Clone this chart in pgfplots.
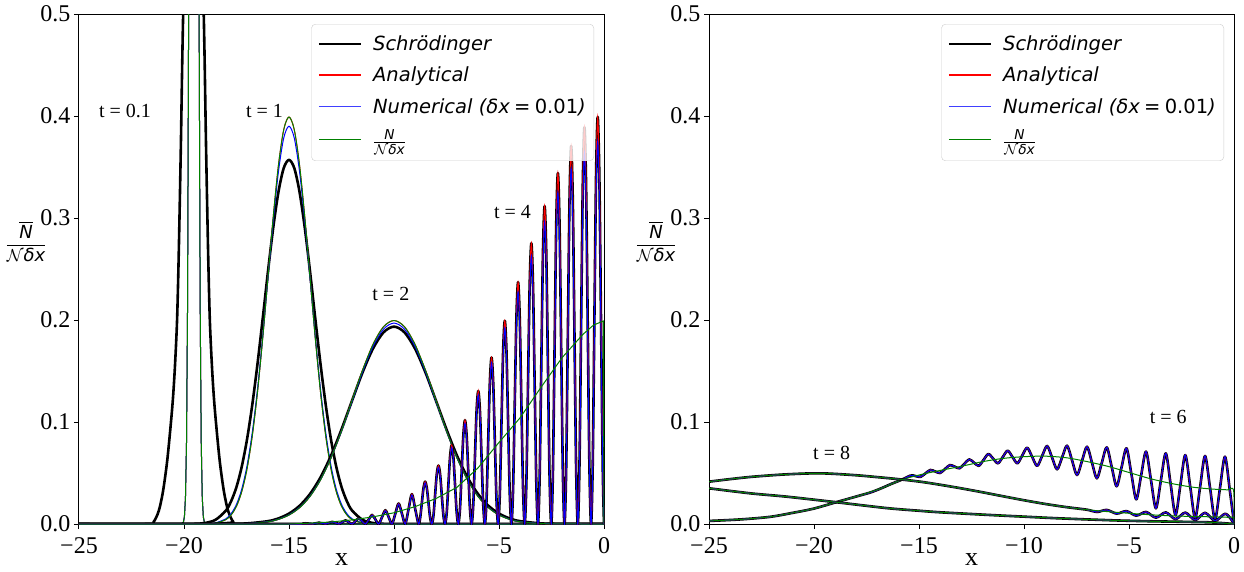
\documentclass[border=0pt]{standalone}
\usepackage{amsmath}
\usepackage{fontspec}
\setmainfont{Liberation Serif}
\newfontfamily\dejavu{DejaVu Sans}
\usepackage{pgfplots}
\usepackage{pgfplotstable}
\pgfplotsset{compat=1.18}

\definecolor{mred}{rgb}{1,0,0}
\definecolor{mblue}{rgb}{0,0,1}
\definecolor{mgreen}{rgb}{0,0.5,0}
\definecolor{lgd}{rgb}{0.8,0.8,0.8}

% ---------- left panel data ----------
\pgfplotstableread{
x y
-25.00 0
-21.75 0
-21.45 0.002
-21.20 0.013
-21.00 0.032
-20.80 0.062
-20.62 0.100
-20.52 0.125
-20.43 0.155
-20.33 0.200
-20.25 0.265
-20.15 0.370
-20.04 0.500
-19.80 0.700
-19.55 0.800
-19.30 0.700
-19.06 0.500
-18.95 0.370
-18.85 0.265
-18.77 0.200
-18.67 0.155
-18.58 0.125
-18.48 0.100
-18.30 0.062
-18.10 0.032
-17.90 0.013
-17.65 0.002
-17.35 0
0.00 0
}\tzk
\pgfplotstableread{
x y
-25.00 0
-20.13 0
-20.03 0.0017
-19.98 0.0071
-19.93 0.0259
-19.88 0.0806
-19.83 0.216
-19.78 0.497
-19.73 0.982
-19.68 1.67
-19.63 2.44
-19.58 3.06
-19.53 3.30
-19.48 3.06
-19.43 2.44
-19.38 1.67
-19.33 0.982
-19.28 0.497
-19.23 0.216
-19.18 0.0806
-19.13 0.0259
-19.08 0.0071
-19.03 0.0017
-18.93 0
0.00 0
}\tzt
\pgfplotstableread{
x k r b
-25.00 0 0 0
-20.50 0 0 0
-19.50 0.0002 0 0
-19.00 0.0010 0.0001 0.0002
-18.50 0.0041 0.0009 0.0011
-18.00 0.0133 0.0044 0.0052
-17.75 0.0226 0.0091 0.0103
-17.50 0.0364 0.0175 0.0193
-17.25 0.0562 0.0318 0.0342
-17.00 0.0828 0.0540 0.0570
-16.75 0.1167 0.0863 0.0895
-16.50 0.1570 0.1295 0.1322
-16.25 0.2017 0.1827 0.1840
-16.00 0.2478 0.2420 0.2411
-15.75 0.2907 0.3012 0.2976
-15.50 0.3258 0.3521 0.3458
-15.25 0.3490 0.3867 0.3785
-15.00 0.3570 0.3990 0.3900
-14.75 0.3490 0.3867 0.3785
-14.50 0.3258 0.3521 0.3458
-14.25 0.2907 0.3012 0.2976
-14.00 0.2478 0.2420 0.2411
-13.75 0.2017 0.1827 0.1840
-13.50 0.1570 0.1295 0.1322
-13.25 0.1167 0.0863 0.0895
-13.00 0.0828 0.0540 0.0570
-12.75 0.0562 0.0318 0.0342
-12.50 0.0364 0.0175 0.0193
-12.25 0.0226 0.0091 0.0103
-12.00 0.0133 0.0044 0.0052
-11.50 0.0041 0.0009 0.0011
-11.00 0.0010 0.0001 0.0002
-10.50 0.0002 0 0
-9.50 0 0 0
0.00 0 0 0
}\tone
\pgfplotstableread{
x k r b
-25.0 0 0 0
-19.0 0 0 0
-18.0 0.0001 0.0001 0.0001
-17.0 0.0006 0.0004 0.0005
-16.0 0.0028 0.0022 0.0023
-15.5 0.0055 0.0046 0.0047
-15.0 0.0102 0.0088 0.0090
-14.5 0.0178 0.0159 0.0162
-14.0 0.0294 0.0270 0.0273
-13.5 0.0457 0.0432 0.0434
-13.0 0.0670 0.0648 0.0649
-12.5 0.0927 0.0913 0.0911
-12.0 0.1208 0.1210 0.1202
-11.5 0.1485 0.1506 0.1492
-11.0 0.1720 0.1761 0.1741
-10.5 0.1879 0.1934 0.1910
-10.0 0.1935 0.1995 0.1970
-9.5 0.1879 0.1934 0.1910
-9.0 0.1720 0.1761 0.1741
-8.5 0.1485 0.1506 0.1492
-8.0 0.1208 0.1210 0.1202
-7.5 0.0927 0.0913 0.0911
-7.0 0.0670 0.0648 0.0649
-6.5 0.0457 0.0432 0.0434
-6.0 0.0294 0.0270 0.0273
-5.5 0.0178 0.0159 0.0162
-5.0 0.0102 0.0088 0.0090
-4.5 0.0055 0.0046 0.0047
-4.0 0.0028 0.0022 0.0023
-3.0 0.0006 0.0004 0.0005
-2.0 0.0001 0.0001 0.0001
-1.0 0 0 0
0.0 0 0 0
}\ttwo
\pgfplotstableread{
x k b
-25.000 0 0
-14.520 0 0
-14.362 0.0004 0.0003
-14.204 0.0007 0.0007
-14.046 0.0004 0.0003
-13.888 0 0
-13.730 0.0007 0.0006
-13.572 0.0013 0.0013
-13.414 0.0007 0.0006
-13.256 0 0
-13.098 0.0011 0.0010
-12.940 0.0021 0.0020
-12.782 0.0011 0.0010
-12.624 0 0
-12.466 0.0018 0.0017
-12.308 0.0035 0.0034
-12.150 0.0018 0.0017
-11.992 0 0
-11.834 0.0028 0.0027
-11.676 0.0056 0.0054
-11.518 0.0028 0.0027
-11.360 0 0
-11.202 0.0045 0.0043
-11.044 0.0089 0.0086
-10.886 0.0045 0.0043
-10.728 0 0
-10.570 0.0068 0.0065
-10.412 0.0135 0.0131
-10.254 0.0068 0.0065
-10.096 0 0
-9.938 0.0101 0.0097
-9.780 0.0201 0.0195
-9.622 0.0101 0.0097
-9.464 0 0
-9.306 0.0147 0.0142
-9.148 0.0293 0.0284
-8.990 0.0147 0.0142
-8.832 0 0
-8.753 0.0061 0.0059
-8.674 0.0208 0.0201
-8.595 0.0354 0.0344
-8.516 0.0415 0.0403
-8.437 0.0354 0.0344
-8.358 0.0208 0.0201
-8.279 0.0061 0.0059
-8.200 0 0
-8.121 0.0084 0.0081
-8.042 0.0287 0.0278
-7.963 0.0489 0.0475
-7.884 0.0573 0.0556
-7.805 0.0489 0.0475
-7.726 0.0287 0.0278
-7.647 0.0084 0.0081
-7.568 0 0
-7.489 0.0113 0.0110
-7.410 0.0387 0.0375
-7.331 0.0660 0.0640
-7.252 0.0773 0.0750
-7.173 0.0660 0.0640
-7.094 0.0387 0.0375
-7.015 0.0113 0.0110
-6.936 0 0
-6.857 0.0149 0.0144
-6.778 0.0509 0.0493
-6.699 0.0869 0.0842
-6.620 0.1017 0.0986
-6.541 0.0869 0.0842
-6.462 0.0509 0.0493
-6.383 0.0149 0.0144
-6.304 0 0
-6.225 0.0190 0.0185
-6.146 0.0652 0.0633
-6.067 0.1114 0.1080
-5.988 0.1304 0.1265
-5.909 0.1114 0.1080
-5.830 0.0652 0.0633
-5.751 0.0190 0.0185
-5.672 0 0
-5.593 0.0238 0.0231
-5.514 0.0816 0.0792
-5.435 0.1394 0.1352
-5.356 0.1632 0.1583
-5.277 0.1394 0.1352
-5.198 0.0816 0.0792
-5.119 0.0238 0.0231
-5.040 0 0
-4.961 0.0291 0.0281
-4.882 0.0996 0.0961
-4.803 0.1701 0.1641
-4.724 0.1992 0.1922
-4.645 0.1701 0.1641
-4.566 0.0996 0.0961
-4.487 0.0291 0.0281
-4.408 0 0
-4.329 0.0346 0.0332
-4.250 0.1185 0.1138
-4.171 0.2024 0.1943
-4.092 0.2370 0.2275
-4.013 0.2024 0.1943
-3.934 0.1185 0.1138
-3.855 0.0346 0.0332
-3.776 0 0
-3.697 0.0402 0.0384
-3.618 0.1376 0.1314
-3.539 0.2350 0.2244
-3.460 0.2752 0.2628
-3.381 0.2350 0.2244
-3.302 0.1376 0.1314
-3.223 0.0402 0.0384
-3.144 0 0
-3.065 0.0455 0.0432
-2.986 0.1558 0.1480
-2.907 0.2661 0.2528
-2.828 0.3116 0.2960
-2.749 0.2661 0.2528
-2.670 0.1558 0.1480
-2.591 0.0455 0.0432
-2.512 0 0
-2.433 0.0502 0.0475
-2.354 0.1720 0.1625
-2.275 0.2938 0.2776
-2.196 0.3440 0.3251
-2.117 0.2938 0.2776
-2.038 0.1720 0.1625
-1.959 0.0502 0.0475
-1.880 0 0
-1.801 0.0541 0.0509
-1.722 0.1853 0.1742
-1.643 0.3165 0.2975
-1.564 0.3706 0.3484
-1.485 0.3165 0.2975
-1.406 0.1853 0.1742
-1.327 0.0541 0.0509
-1.248 0 0
-1.169 0.0568 0.0531
-1.090 0.1945 0.1819
-1.011 0.3322 0.3106
-0.932 0.3890 0.3637
-0.853 0.3322 0.3106
-0.774 0.1945 0.1819
-0.695 0.0568 0.0531
-0.616 0 0
-0.537 0.0583 0.0548
-0.458 0.1995 0.1875
-0.379 0.3407 0.3203
-0.300 0.3990 0.3751
-0.221 0.3407 0.3203
-0.142 0.1995 0.1875
-0.063 0.0583 0.0548
0.000 0 0
}\tfour
\pgfplotstableread{
x y
-25.00 0
-15.00 0
-14.00 0.0008
-13.00 0.0020
-12.00 0.0040
-11.00 0.0070
-10.00 0.0110
-9.00 0.0170
-8.00 0.0250
-7.00 0.0360
-6.00 0.0550
-5.00 0.0800
-4.00 0.1040
-3.00 0.1340
-2.00 0.1630
-1.00 0.1860
-0.50 0.1950
-0.03 0.1990
0.00 0
}\tfourg
% ---------- right panel data ----------
\pgfplotstableread{
x y
-25.000 0.0030
-23.500 0.0045
-22.100 0.0070
-21.000 0.0110
-20.030 0.0150
-18.920 0.0215
-17.810 0.0280
-17.300 0.0310
-16.800 0.0350
-16.300 0.0395
-15.870 0.0430
-15.400 0.0475
-15.165 0.0470
-14.930 0.0462
-14.695 0.0496
-14.460 0.0530
-14.228 0.0515
-13.995 0.0500
-13.763 0.0539
-13.530 0.0578
-13.300 0.0562
-13.070 0.0546
-12.840 0.0590
-12.610 0.0634
-12.383 0.0602
-12.155 0.0570
-11.928 0.0628
-11.700 0.0686
-11.470 0.0641
-11.240 0.0595
-11.010 0.0657
-10.780 0.0719
-10.548 0.0657
-10.315 0.0595
-10.083 0.0672
-9.850 0.0748
-9.613 0.0659
-9.375 0.0569
-9.138 0.0667
-8.900 0.0765
-8.663 0.0651
-8.425 0.0536
-8.188 0.0652
-7.950 0.0768
-7.713 0.0624
-7.475 0.0480
-7.238 0.0619
-7.000 0.0758
-6.765 0.0603
-6.530 0.0448
-6.295 0.0600
-6.060 0.0752
-5.825 0.0561
-5.590 0.0370
-5.355 0.0556
-5.120 0.0742
-4.888 0.0492
-4.655 0.0242
-4.423 0.0476
-4.190 0.0710
-3.955 0.0432
-3.720 0.0154
-3.485 0.0424
-3.250 0.0693
-3.018 0.0391
-2.785 0.0088
-2.553 0.0382
-2.320 0.0676
-2.085 0.0366
-1.850 0.0056
-1.615 0.0362
-1.380 0.0667
-1.143 0.0357
-0.905 0.0046
-0.668 0.0353
-0.430 0.0660
-0.200 0.0330
0.000 0.0010
}\tsix
\pgfplotstableread{
x y
-25.00 0.0030
-23.50 0.0045
-22.10 0.0070
-21.00 0.0110
-20.03 0.0150
-18.92 0.0215
-17.81 0.0280
-16.80 0.0350
-15.87 0.0430
-15.00 0.0480
-14.00 0.0525
-13.00 0.0565
-12.00 0.0610
-11.00 0.0643
-10.00 0.0660
-9.00 0.0665
-8.00 0.0650
-7.00 0.0612
-6.00 0.0565
-5.00 0.0505
-4.00 0.0445
-3.00 0.0398
-2.00 0.0362
-1.00 0.0342
-0.30 0.0335
-0.02 0.0330
0.00 0
}\tsixg
\pgfplotstableread{
x y
-25.00 0.0415
-24.00 0.0440
-22.89 0.0464
-21.30 0.0487
-19.71 0.0497
-18.13 0.0480
-17.00 0.0460
-16.00 0.0440
-14.95 0.0415
-14.00 0.0385
-13.00 0.0350
-12.00 0.0312
-11.00 0.0272
-10.00 0.0233
-9.00 0.0197
-8.00 0.0166
-7.00 0.0140
-6.53 0.0118
-6.06 0.0138
-5.59 0.0102
-5.12 0.0126
-4.655 0.0082
-4.19 0.0118
-3.72 0.0062
-3.25 0.0114
-2.785 0.0048
-2.32 0.0112
-1.85 0.0038
-1.38 0.0110
-0.905 0.0032
-0.43 0.0100
-0.15 0.0050
0.00 0.0000
}\teight
\pgfplotstableread{
x y
-25.00 0.0415
-24.00 0.0440
-22.89 0.0464
-21.30 0.0487
-19.71 0.0497
-18.13 0.0480
-17.00 0.0460
-16.00 0.0440
-14.95 0.0415
-14.00 0.0385
-13.00 0.0350
-12.00 0.0312
-11.00 0.0272
-10.00 0.0233
-9.00 0.0197
-8.00 0.0166
-7.00 0.0140
-6.00 0.0121
-5.00 0.0105
-4.00 0.0091
-3.00 0.0080
-2.00 0.0074
-1.00 0.0070
-0.30 0.0066
-0.02 0.0065
0.00 0
}\teightg
\pgfplotstableread{
x y
-25.00 0.0350
-23.00 0.0300
-21.30 0.0268
-18.92 0.0213
-16.54 0.0156
-15.00 0.0130
-14.00 0.0115
-11.78 0.0090
-10.00 0.0072
-8.60 0.0058
-7.00 0.0045
-5.43 0.0034
-4.00 0.0027
-2.00 0.0020
-1.00 0.0015
0.00 0.0000
}\tten

\pgfplotsset{
 k/.style={black, line width=2.6pt, line join=round},
 r/.style={mred, line width=1pt},
 b/.style={mblue, line width=1pt},
 g/.style={mgreen, line width=1pt},
 panel/.style={
  width=525pt, height=510pt, scale only axis,
  xmin=-25, xmax=0, ymin=0, ymax=0.5,
  clip mode=individual,
  xtick={-25,-20,-15,-10,-5,0},
  xticklabels={−25,−20,−15,−10,−5,0},
  ytick={0,0.1,0.2,0.3,0.4,0.5},
  yticklabels={0.0,0.1,0.2,0.3,0.4,0.5},
  tick align=outside, tick pos=left,
  major tick length=5pt,
  every tick/.style={black, line width=1pt},
  axis line style={line width=1pt},
  tick label style={font=\fontsize{24}{26}\selectfont},
  xticklabel style={yshift=-5pt},
  legend style={at={(rel axis cs:1,1)}, xshift=-10pt, yshift=-10pt,
    anchor=north east, draw=lgd, rounded corners=4pt, fill=white,
    fill opacity=0.8, text opacity=1, draw opacity=1,
    font=\dejavu\itshape\fontsize{19.5}{23}\selectfont,
    row sep=11pt, inner xsep=6pt, inner ysep=9.5pt,
    /tikz/every odd column/.append style={column sep=9pt}},
  legend cell align=left,
  legend image code/.code={\draw[##1] (0pt,0pt) -- (42pt,0pt);},
 },
}

\newcommand{\ylab}{$\dfrac{\overline{\text{\dejavu\itshape N}}}{\mathcal{N}\text{\dejavu\itshape δx}}$}
\newcommand{\legN}{$\frac{\text{\dejavu\itshape N}}{\mathcal{N}\text{\dejavu\itshape δx}}$}
\newcommand{\legents}{%
  \addlegendimage{draw=black, line width=2.6pt}\addlegendentry{Schrödinger}
  \addlegendimage{draw=red, line width=1.5pt}\addlegendentry{Analytical}
  \addlegendimage{draw=blue!75!white, line width=1.5pt}\addlegendentry{Numerical (δx\hspace{0.22em}{\upshape=\hspace{0.22em}0.01})}
  \addlegendimage{draw=green!50!black, line width=1.6pt}\addlegendentry{\legN}
}

\begin{document}
\begin{tikzpicture}
\begin{axis}[panel, at={(0pt,0pt)}, anchor=south west]
\coordinate (Lsw) at (rel axis cs:0,0);
\legents
% t = 0.1
\addplot[k, smooth] table[x=x,y=y]{\tzk};
\addplot[r] table[x=x,y=y]{\tzt};
\addplot[b] table[x=x,y=y]{\tzt};
\addplot[g] table[x=x,y=y]{\tzt};
% t = 1
\addplot[k, smooth] table[x=x,y=k]{\tone};
\addplot[r, smooth] table[x=x,y=r]{\tone};
\addplot[b, smooth] table[x=x,y=b]{\tone};
\addplot[g, smooth] table[x=x,y=r]{\tone};
% t = 2
\addplot[k, smooth] table[x=x,y=k]{\ttwo};
\addplot[r, smooth] table[x=x,y=r]{\ttwo};
\addplot[b, smooth] table[x=x,y=b]{\ttwo};
\addplot[g, smooth] table[x=x,y=r]{\ttwo};
% t = 4
\addplot[k, smooth] table[x=x,y=k]{\tfour};
\addplot[r, smooth] table[x=x,y=k]{\tfour};
\addplot[b, smooth] table[x=x,y=b]{\tfour};
\addplot[g] table[x=x,y=y]{\tfourg};
\node[font=\fontsize{20}{22}\selectfont] at (axis cs:-22.81,0.405) {t = 0.1};
\node[font=\fontsize{20}{22}\selectfont] at (axis cs:-16.17,0.405) {t = 1};
\node[font=\fontsize{20}{22}\selectfont] at (axis cs:-10.15,0.2255) {t = 2};
\node[font=\fontsize{20}{22}\selectfont] at (axis cs:-4.36,0.306) {t = 4};
\node[font=\fontsize{18}{20}\selectfont] at (rel axis cs:0,0.553) [xshift=-53pt] {\ylab};
\node[font=\fontsize{26}{28}\selectfont, anchor=base, inner sep=0pt] at (rel axis cs:0.5,0) [yshift=-41pt] {x};
\end{axis}
\begin{axis}[panel, at={(630pt,0pt)}, anchor=south west]
\legents
\addplot[k, smooth] table[x=x,y=y]{\tsix};
\addplot[r, smooth] table[x=x,y=y]{\tsix};
\addplot[b, smooth] table[x=x,y=y]{\tsix};
\addplot[g, smooth] table[x=x,y=y]{\tsixg};
\addplot[k, smooth] table[x=x,y=y]{\teight};
\addplot[r, smooth] table[x=x,y=y]{\teight};
\addplot[b, smooth] table[x=x,y=y]{\teight};
\addplot[g, smooth] table[x=x,y=y]{\teightg};
\addplot[k, smooth] table[x=x,y=y]{\tten};
\addplot[r, smooth] table[x=x,y=y]{\tten};
\addplot[b, smooth] table[x=x,y=y]{\tten};
\addplot[g, smooth] table[x=x,y=y]{\tten};
\node[font=\fontsize{20}{22}\selectfont] at (axis cs:-19.16,0.0699) {t = 8};
\node[font=\fontsize{20}{22}\selectfont] at (axis cs:-3.13,0.105) {t = 6};
\node[font=\fontsize{18}{20}\selectfont] at (rel axis cs:0,0.553) [xshift=-53pt] {\ylab};
\node[font=\fontsize{26}{28}\selectfont, anchor=base, inner sep=0pt] at (rel axis cs:0.5,0) [yshift=-41pt] {x};
\end{axis}
\pgfresetboundingbox
\path[use as bounding box] (Lsw) ++(-79pt,-47pt) rectangle ++(1244pt,571pt);
\end{tikzpicture}
\end{document}
